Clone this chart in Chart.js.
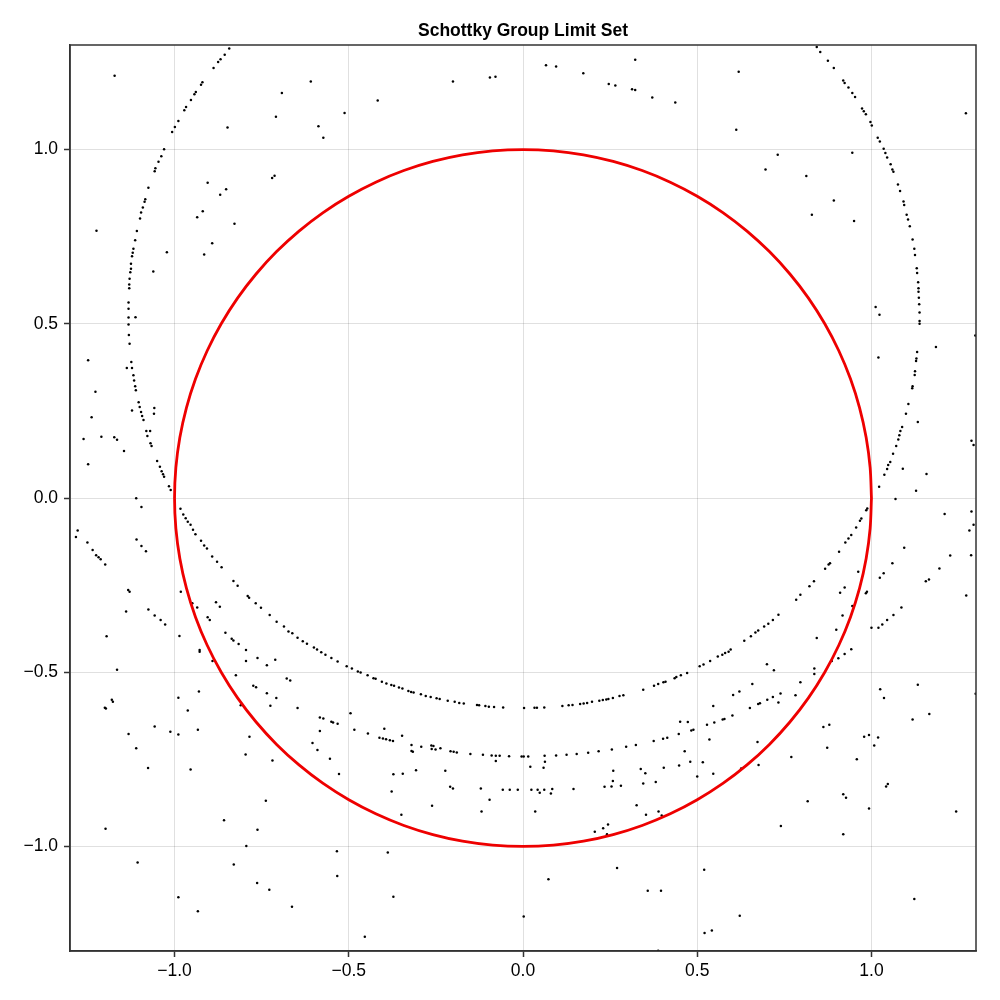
<!DOCTYPE html>
<html>
<head>
<meta charset="utf-8">
<title>Schottky Group Limit Set</title>
<script src="https://cdn.jsdelivr.net/npm/chart.js@4"></script>
<style>
  html, body { margin: 0; padding: 0; background: #fff; }
  canvas { display: block; }
</style>
</head>
<body>
<canvas id="chart" width="1000" height="1000"></canvas>
<script>
const tickValues = [-1.0, -0.5, 0.0, 0.5, 1.0];
const tickLabels = ['\u22121.0', '\u22120.5', '0.0', '0.5', '1.0'];

// red reference circle, sampled every 5 degrees
const circleX = [1, .9962, .9848, .9659, .9397, .9063, .866, .8192, .766, .7071, .6428, .5736, .5, .4226, .342, .2588, .1736, .0872, 0,
  -.0872, -.1736, -.2588, -.342, -.4226, -.5, -.5736, -.6428, -.7071, -.766, -.8192, -.866, -.9063, -.9397, -.9659, -.9848, -.9962, -1,
  -.9962, -.9848, -.9659, -.9397, -.9063, -.866, -.8192, -.766, -.7071, -.6428, -.5736, -.5, -.4226, -.342, -.2588, -.1736, -.0872, 0,
  .0872, .1736, .2588, .342, .4226, .5, .5736, .6428, .7071, .766, .8192, .866, .9063, .9397, .9659, .9848, .9962, 1];
const circleY = [0, .0872, .1736, .2588, .342, .4226, .5, .5736, .6428, .7071, .766, .8192, .866, .9063, .9397, .9659, .9848, .9962, 1,
  .9962, .9848, .9659, .9397, .9063, .866, .8192, .766, .7071, .6428, .5736, .5, .4226, .342, .2588, .1736, .0872, 0,
  -.0872, -.1736, -.2588, -.342, -.4226, -.5, -.5736, -.6428, -.7071, -.766, -.8192, -.866, -.9063, -.9397, -.9659, -.9848, -.9962, -1,
  -.9962, -.9848, -.9659, -.9397, -.9063, -.866, -.8192, -.766, -.7071, -.6428, -.5736, -.5, -.4226, -.342, -.2588, -.1736, -.0872, 0];

// big arc, left and right flanks
const outerArc = [
  [-0.843,1.290],[-0.856,1.272],[-0.868,1.259],[-0.875,1.251],[-0.888,1.234],[-0.920,1.193],[-0.924,1.186],[-0.939,1.165],
  [-0.943,1.159],[-0.953,1.142],[-0.967,1.122],[-0.972,1.113],[-0.989,1.082],[-0.999,1.065],[-1.007,1.050],[-1.030,1.001],
  [-1.038,0.981],[-1.046,0.965],[-1.055,0.946],[-1.057,0.938],[-1.075,0.890],[-1.084,0.857],[-1.086,0.850],[-1.091,0.834],
  [-1.096,0.819],[-1.099,0.802],[-1.108,0.766],[-1.113,0.740],[-1.118,0.715],[-1.120,0.704],[-1.122,0.694],[-1.125,0.672],
  [-1.125,0.658],[-1.127,0.648],[-1.129,0.629],[-1.130,0.613],[-1.130,0.602],[-1.132,0.561],[-1.132,0.543],[-1.132,0.518],
  [-1.132,0.498],[-1.131,0.468],[-1.129,0.443],[-1.124,0.390],[-1.122,0.373],[-1.118,0.352],[-1.116,0.337],[-1.113,0.321],
  [-1.111,0.309],[-1.103,0.275],[-1.100,0.261],[-1.096,0.247],[-1.093,0.235],[-1.089,0.224],[-1.081,0.192],[-1.078,0.178],
  [-1.069,0.157],[-1.066,0.149],[-1.050,0.106],[-1.042,0.090],[-1.037,0.077],[-1.033,0.068],[-1.030,0.061],[-1.016,0.034],
  [-1.011,0.023],
  [0.843,1.294],[0.853,1.280],[0.875,1.255],[0.892,1.234],[0.919,1.198],[0.923,1.191],[0.934,1.178],[0.945,1.162],
  [0.953,1.151],[0.973,1.118],[0.978,1.110],[0.984,1.101],[0.997,1.079],[1.001,1.069],[1.018,1.034],[1.024,1.023],
  [1.035,1.002],[1.040,0.990],[1.045,0.977],[1.055,0.958],[1.060,0.943],[1.063,0.936],[1.076,0.900],[1.082,0.881],
  [1.092,0.851],[1.094,0.841],[1.101,0.813],[1.105,0.799],[1.110,0.780],[1.118,0.742],[1.123,0.715],[1.125,0.697],
  [1.130,0.659],[1.131,0.646],[1.134,0.619],[1.135,0.602],[1.135,0.592],[1.136,0.575],[1.137,0.556],[1.138,0.532],
  [1.138,0.508],[1.138,0.500],[1.131,0.419],[1.129,0.400],[1.128,0.393],[1.125,0.364],[1.124,0.353],[1.118,0.321],
  [1.117,0.315],[1.106,0.270],[1.099,0.242],[1.088,0.204],[1.083,0.192],[1.080,0.180],[1.077,0.168],[1.071,0.149],
  [1.062,0.127],[1.054,0.103],[1.048,0.095],[1.045,0.083],[1.037,0.067],[1.022,0.032]
];

// lower part of the same arc, dipping to about -0.6
const lowerArc = [
  [-0.983,-0.031],[-0.975,-0.047],[-0.968,-0.058],[-0.962,-0.068],[-0.954,-0.077],[-0.947,-0.091],[-0.940,-0.104],
  [-0.924,-0.123],[-0.915,-0.136],[-0.907,-0.145],[-0.892,-0.168],[-0.878,-0.183],[-0.865,-0.199],[-0.831,-0.238],
  [-0.819,-0.252],[-0.790,-0.281],[-0.786,-0.286],[-0.767,-0.302],[-0.752,-0.315],[-0.727,-0.336],[-0.707,-0.355],
  [-0.686,-0.369],[-0.673,-0.383],[-0.662,-0.388],[-0.647,-0.401],[-0.632,-0.411],[-0.620,-0.418],[-0.600,-0.429],
  [-0.591,-0.435],[-0.579,-0.443],[-0.567,-0.450],[-0.550,-0.459],[-0.532,-0.469],[-0.506,-0.483],[-0.491,-0.489],
  [-0.474,-0.498],[-0.466,-0.501],[-0.446,-0.509],[-0.429,-0.517],[-0.423,-0.519],[-0.405,-0.527],[-0.392,-0.532],
  [-0.378,-0.537],[-0.370,-0.539],[-0.356,-0.544],[-0.346,-0.547],[-0.329,-0.554],[-0.321,-0.557],[-0.314,-0.558],
  [-0.293,-0.563],[-0.279,-0.568],[-0.265,-0.571],[-0.248,-0.575],[-0.239,-0.577],[-0.216,-0.582],[-0.196,-0.585],
  [-0.183,-0.588],[-0.170,-0.590],[-0.132,-0.594],[-0.126,-0.595],[-0.108,-0.597],[-0.098,-0.599],[-0.083,-0.600],
  [-0.057,-0.601],[0.003,-0.603],[0.033,-0.602],[0.040,-0.602],[0.061,-0.601],[0.113,-0.597],[0.131,-0.595],
  [0.142,-0.594],[0.164,-0.591],[0.174,-0.590],[0.184,-0.588],[0.198,-0.585],[0.219,-0.582],[0.229,-0.580],
  [0.239,-0.578],[0.245,-0.577],[0.258,-0.574],[0.277,-0.568],[0.288,-0.566],[0.345,-0.550],[0.376,-0.539],
  [0.388,-0.534],[0.403,-0.529],[0.409,-0.527],[0.435,-0.517],[0.453,-0.509],[0.471,-0.502],[0.507,-0.483],
  [0.518,-0.478],[0.537,-0.468],[0.559,-0.455],[0.572,-0.450],[0.580,-0.445],[0.590,-0.441],[0.596,-0.435],
  [0.635,-0.410],[0.654,-0.397],[0.667,-0.386],[0.675,-0.380],[0.692,-0.369],[0.704,-0.361],[0.717,-0.350],
  [0.733,-0.335],[0.784,-0.292],[0.796,-0.278],[0.822,-0.253],[0.835,-0.239],[0.867,-0.203],[0.877,-0.191],
  [0.881,-0.187],[0.907,-0.154],[0.925,-0.128],[0.934,-0.116],[0.942,-0.106],[0.956,-0.085],[0.967,-0.065],
  [0.971,-0.059],[0.985,-0.035],[0.988,-0.030]
];

// second, fainter band around y = -0.74
const secondBand = [
  [-0.412,-0.688],[-0.402,-0.690],[-0.393,-0.692],[-0.382,-0.695],[-0.373,-0.697],[-0.398,-0.662],[-0.347,-0.682],
  [-0.320,-0.709],[-0.320,-0.726],[-0.316,-0.728],[-0.292,-0.714],[-0.263,-0.710],[-0.257,-0.712],[-0.262,-0.720],
  [-0.251,-0.722],[-0.237,-0.718],[-0.208,-0.727],[-0.199,-0.728],[-0.190,-0.730],[-0.151,-0.735],[-0.115,-0.737],
  [-0.090,-0.739],[-0.078,-0.740],[-0.067,-0.740],[-0.040,-0.741],[-0.004,-0.742],[0.002,-0.742],[0.015,-0.742],
  [0.062,-0.740],[0.095,-0.739],[0.125,-0.737],[0.154,-0.735],[0.187,-0.731],[0.217,-0.727],[0.255,-0.722],
  [0.296,-0.714],[0.324,-0.709],[0.375,-0.697],[0.402,-0.691],[0.414,-0.688],
  [0.451,-0.642],[0.473,-0.643],[0.483,-0.667],[0.489,-0.665],[0.528,-0.651],[0.549,-0.644],[0.573,-0.636],
  [0.578,-0.634],[0.601,-0.624],[0.651,-0.603],[0.675,-0.591],[0.680,-0.589],[0.701,-0.579],[0.717,-0.571],
  [0.733,-0.587],[0.739,-0.561],[0.782,-0.566],[0.796,-0.529],[0.836,-0.489],[0.836,-0.505],[0.886,-0.468],
  [0.905,-0.460],[0.923,-0.448]
];

// loose points everywhere else
const scatterPts = [
  [-1.172,1.212],[-0.609,1.195],[-0.692,1.162],[-0.512,1.105],[-0.709,1.094],[-0.587,1.067],[-0.573,1.034],[-0.848,1.063],
  [-0.720,0.918],[-0.713,0.925],[-0.905,0.905],[-0.869,0.870],[-0.852,0.886],[-0.919,0.823],[-0.935,0.806],[-0.828,0.787],
  [-0.892,0.731],[-0.915,0.699],[-1.022,0.705],[-1.061,0.650],[-1.224,0.767],[-1.112,0.519],
  [-0.417,1.141],[-0.201,1.195],[-0.095,1.207],[-0.079,1.209],[0.066,1.242],[0.095,1.238],[0.173,1.219],[0.322,1.258],
  [0.246,1.188],[0.265,1.184],[0.313,1.173],[0.322,1.171],[0.371,1.149],[0.437,1.135],
  [0.619,1.223],[0.612,1.057],[0.731,0.985],[0.696,0.943],[0.813,0.924],[0.945,0.991],[0.892,0.854],[0.829,0.813],
  [0.950,0.795],[1.271,1.104],[1.012,0.548],[1.023,0.526],[1.298,0.466],
  [-1.248,0.395],[-1.137,0.373],[-1.227,0.305],[-1.238,0.232],[-1.122,0.251],[-1.058,0.258],[-1.059,0.242],[-1.070,0.192],
  [-1.261,0.169],[-1.210,0.176],[-1.173,0.174],[-1.165,0.167],[-1.145,0.135],[-1.248,0.097],[-1.110,-0.001],[-1.095,-0.026],
  [-1.278,-0.093],[-1.283,-0.112],[-1.250,-0.128],[-1.235,-0.149],[-1.225,-0.164],[-1.218,-0.170],[-1.212,-0.176],
  [-1.199,-0.191],[-1.109,-0.119],[-1.095,-0.138],[-1.082,-0.153],[-1.133,-0.264],[-1.129,-0.269],[-1.139,-0.326],
  [-1.075,-0.320],[-1.057,-0.337],[-1.040,-0.350],[-1.027,-0.363],[-1.195,-0.397],[-0.982,-0.269],[-0.986,-0.396],
  [-0.949,-0.302],[-0.935,-0.314],[-0.881,-0.299],[-0.870,-0.312],[-0.905,-0.342],[-0.899,-0.350],[-0.854,-0.387],
  [-0.836,-0.404],[-0.831,-0.409],[-0.816,-0.419],[-0.795,-0.436],[-0.928,-0.436],
  [1.185,0.433],[1.020,0.403],[1.133,0.218],[1.287,0.164],[1.293,0.152],[1.090,0.084],[1.158,0.069],[1.128,0.021],
  [1.069,-0.003],[1.210,-0.046],[1.287,-0.039],[1.293,-0.077],[1.281,-0.093],[1.094,-0.143],[1.226,-0.165],[1.286,-0.164],
  [1.060,-0.187],[1.195,-0.202],[1.035,-0.216],[1.024,-0.229],[0.962,-0.212],[1.165,-0.234],[1.156,-0.239],[0.923,-0.257],
  [0.910,-0.272],[0.987,-0.269],[0.984,-0.273],[1.272,-0.280],[0.945,-0.310],[1.086,-0.314],[0.917,-0.337],[1.063,-0.336],
  [1.045,-0.350],[1.031,-0.363],[1.020,-0.372],[1.000,-0.372],[0.899,-0.378],[0.843,-0.402],[0.942,-0.434],
  [-0.928,-0.441],[-1.165,-0.493],[-0.891,-0.468],[-0.795,-0.468],[-0.762,-0.459],[-0.735,-0.480],[-0.711,-0.464],
  [-0.824,-0.509],[-0.774,-0.539],[-0.766,-0.543],[-0.678,-0.518],[-0.668,-0.524],[-0.735,-0.560],[-0.708,-0.574],
  [-0.725,-0.596],[-0.810,-0.595],[-0.647,-0.603],[-0.930,-0.555],[-0.989,-0.573],[-0.962,-0.610],[-1.180,-0.579],
  [-1.177,-0.585],[-1.200,-0.602],[-1.197,-0.604],[-1.132,-0.677],[-1.057,-0.656],[-1.012,-0.671],[-0.989,-0.679],
  [-0.933,-0.665],[-0.785,-0.685],[-1.110,-0.718],[-1.076,-0.775],[-0.954,-0.779],[-0.796,-0.736],[-0.719,-0.753],
  [-0.583,-0.630],[-0.573,-0.633],[-0.550,-0.642],[-0.545,-0.644],[-0.532,-0.648],[-0.583,-0.669],[-0.604,-0.703],
  [-0.590,-0.723],[-0.554,-0.748],[-0.528,-0.792],[-0.495,-0.618],[-0.484,-0.665],[-0.445,-0.676],[-0.738,-0.869],
  [-0.858,-0.925],[-0.762,-0.952],[-1.198,-0.949],[-0.794,-0.999],[-0.534,-1.014],[-1.106,-1.046],[-0.830,-1.052],
  [-0.533,-1.085],[-0.763,-1.105],[-0.728,-1.124],[-0.989,-1.146],[-0.663,-1.173],[-0.933,-1.186],[-0.454,-1.259],
  [-0.078,-0.755],[0.021,-0.771],[0.059,-0.774],[0.063,-0.757],[-0.307,-0.781],[-0.223,-0.783],[-0.372,-0.793],
  [-0.345,-0.791],[-0.377,-0.842],[-0.209,-0.829],[-0.201,-0.834],[-0.121,-0.834],[-0.058,-0.837],[-0.038,-0.837],
  [-0.015,-0.837],[0.024,-0.837],[0.042,-0.837],[0.048,-0.846],[0.061,-0.837],[0.080,-0.848],[0.084,-0.835],
  [0.145,-0.835],[-0.096,-0.866],[-0.261,-0.883],[-0.349,-0.909],[-0.119,-0.900],[0.035,-0.900],[0.234,-0.829],
  [0.254,-0.828],[0.258,-0.812],[0.259,-0.783],[0.281,-0.826],[0.338,-0.778],[0.351,-0.790],[0.345,-0.819],
  [0.381,-0.815],[0.404,-0.774],[0.326,-0.882],[0.353,-0.909],[0.389,-0.900],[0.398,-0.911],[0.206,-0.958],
  [0.230,-0.948],[0.244,-0.937],[0.241,-0.965],[-0.388,-1.017],[0.073,-1.094],[0.270,-1.062],[0.358,-1.127],
  [0.396,-1.127],[-0.372,-1.144],[0.002,-1.201],[0.388,-1.299],
  [0.440,-0.514],[0.700,-0.477],[0.720,-0.494],[0.658,-0.534],[0.603,-0.565],[0.621,-0.555],[0.546,-0.597],
  [0.447,-0.677],[0.535,-0.693],[0.464,-0.727],[0.480,-0.757],[0.516,-0.758],[0.448,-0.768],[0.500,-0.799],
  [0.546,-0.791],[0.673,-0.700],[0.676,-0.766],[0.626,-0.776],[0.770,-0.743],[0.862,-0.657],[0.879,-0.651],
  [0.873,-0.717],[0.958,-0.750],[0.979,-0.685],[0.993,-0.680],[1.019,-0.687],[1.008,-0.710],[1.025,-0.549],
  [1.036,-0.574],[1.133,-0.536],[1.118,-0.636],[1.166,-0.620],[1.299,-0.562],[1.042,-0.828],[1.047,-0.821],
  [0.919,-0.850],[0.927,-0.860],[0.817,-0.870],[0.993,-0.891],[1.243,-0.900],[0.740,-0.941],[0.919,-0.965],
  [0.520,-1.067],[1.123,-1.151],[0.622,-1.199],[0.521,-1.248],[0.542,-1.241]
];

const toXY = (pts) => pts.map(([x, y]) => ({ x: x, y: y }));

function dotSet(pts) {
  return {
    data: toXY(pts),
    pointRadius: 1.25,
    pointBorderWidth: 0,
    pointBackgroundColor: '#000',
    showLine: false,
  };
}

const frame = {
  id: 'frame',
  afterDraw(chart) {
    const a = chart.chartArea;
    const ctx = chart.ctx;
    ctx.save();
    ctx.strokeStyle = '#333';
    ctx.lineWidth = 1.5;
    ctx.strokeRect(a.left, a.top, a.right - a.left, a.bottom - a.top);
    ctx.restore();
  }
};

Chart.defaults.font.family = "'Liberation Sans', Arial, sans-serif";

function axis(size, isX) {
  return {
    type: 'linear',
    min: -1.3,
    max: 1.3,
    afterBuildTicks: (scale) => { scale.ticks = tickValues.map((v) => ({ value: v })); },
    afterFit: (scale) => { if (isX) scale.height = size; else scale.width = size; },
    grid: {
      color: 'rgba(0,0,0,0.12)',
      lineWidth: 1,
      drawTicks: true,
      tickLength: 6,
      tickColor: '#333',
      tickWidth: 1.5,
    },
    border: { display: true, color: '#333', width: 1.5 },
    ticks: {
      color: '#000',
      font: { size: 17.5 },
      padding: isX ? 4 : 6,
      maxRotation: 0,
      callback: (value, index) => tickLabels[index],
    },
  };
}

new Chart(document.getElementById('chart'), {
  type: 'scatter',
  data: {
    datasets: [
      {
        data: circleX.map((x, i) => ({ x: x, y: circleY[i] })),
        showLine: true,
        borderColor: '#ee0000',
        borderWidth: 2.8,
        pointRadius: 0,
        fill: false,
        tension: 0.33,
      },
      dotSet(outerArc),
      dotSet(lowerArc),
      dotSet(secondBand),
      dotSet(scatterPts),
    ],
  },
  options: {
    responsive: false,
    devicePixelRatio: 1,
    animation: false,
    layout: { padding: { left: 0, right: 24, top: 0, bottom: 0 } },
    plugins: {
      legend: { display: false },
      tooltip: { enabled: false },
      title: {
        display: true,
        fullSize: false,
        text: 'Schottky Group Limit Set',
        color: '#000',
        font: { size: 17.5, weight: 'bold' },
        padding: { top: 21, bottom: 3 },
      },
    },
    scales: {
      x: axis(49, true),
      y: axis(70, false),
    },
  },
  plugins: [frame],
});
</script>
</body>
</html>
